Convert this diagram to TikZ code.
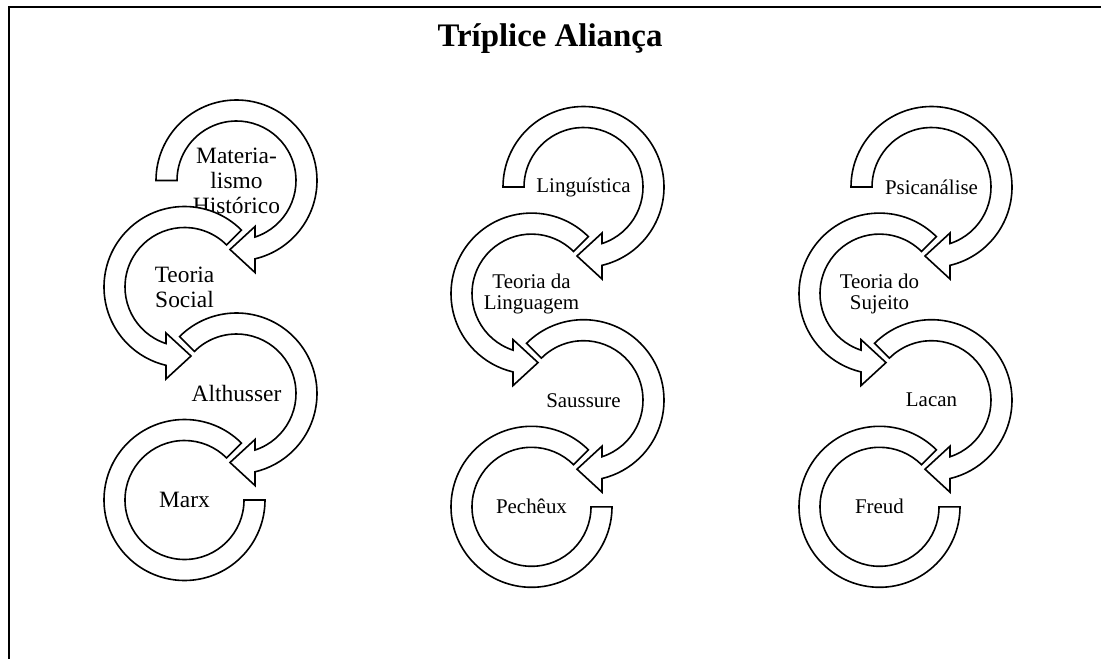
\documentclass[tikz,border=0pt]{standalone}
\usepackage{fontspec}
\setmainfont{Liberation Serif}
\begin{document}
\begin{tikzpicture}[x=1bp,y=-1bp,
  band/.style={draw=black,fill=white,line width=1.6bp,line join=miter},
  lbl/.style={align=center,font=\fontsize{21}{21}\selectfont,inner sep=0pt},
  lblbig/.style={align=center,font=\fontsize{23.5}{25}\selectfont,inner sep=0pt},
  frameline/.style={draw=black,line width=2bp}]
\useasboundingbox (0,0) rectangle (1101,659);
\newcommand{\cwarrow}[2]{%
  \begin{scope}[shift={(#1)}]
  \filldraw[band] (#2:80.5) arc[start angle=#2,end angle=76.7,radius=80.5]
    -- (18.5,92) -- (-6.5,69) -- (18.5,46) -- (71.9:59.5)
    arc[start angle=71.9,end angle=#2,radius=59.5] -- cycle;
  \end{scope}}
\newcommand{\ccwarrow}[1]{%
  \begin{scope}[shift={(#1)}]
  \filldraw[band] (-45:80.5) arc[start angle=-45,end angle=-256.7,radius=80.5]
    -- (-18.5,92) -- (6.5,69) -- (-18.5,46) -- (-251.9:59.5)
    arc[start angle=-251.9,end angle=-45,radius=59.5] -- cycle;
  \end{scope}}
\newcommand{\lastarrow}[1]{%
  \begin{scope}[shift={(#1)}]
  \filldraw[band] (-45:80.5) arc[start angle=-45,end angle=-360,radius=80.5]
    -- (0:59.5) arc[start angle=-360,end angle=-45,radius=59.5] -- cycle;
  \end{scope}}
% frame
\draw[frameline] (9,670) -- (9,7) -- (1110,7);
\node[font=\fontsize{33}{36}\selectfont\bfseries] (title) at (550,39) {Tríplice Aliança};
% column 1
\coordinate (a1) at (236.5,180.5);
\coordinate (a2) at (184.5,287);
\coordinate (a3) at (236.5,393.5);
\coordinate (a4) at (184.5,500);
\cwarrow{a1}{-180}
\node[lblbig] (ta1) at (a1) {Materia-\\lismo\\Histórico};
\ccwarrow{a2}
\node[lblbig] (ta2) at (a2) {Teoria\\Social};
\cwarrow{a3}{-135}
\node[lblbig] (ta3) at (a3) {Althusser};
\lastarrow{a4}
\node[lblbig] (ta4) at (a4) {Marx};
% column 2
\coordinate (b1) at (583.5,187);
\coordinate (b2) at (531.5,293.6);
\coordinate (b3) at (583.5,400.2);
\coordinate (b4) at (531.5,506.8);
\cwarrow{b1}{-180}
\node[lbl] (tb1) at (b1) {Linguística};
\ccwarrow{b2}
\node[lbl] (tb2) at (b2) {Teoria da\\Linguagem};
\cwarrow{b3}{-135}
\node[lbl] (tb3) at (b3) {Saussure};
\lastarrow{b4}
\node[lbl] (tb4) at (b4) {Pechêux};
% column 3
\coordinate (c1) at (931.5,187);
\coordinate (c2) at (879.5,293.6);
\coordinate (c3) at (931.5,400.2);
\coordinate (c4) at (879.5,506.8);
\cwarrow{c1}{-180}
\node[lbl] (tc1) at (c1) {Psicanálise};
\ccwarrow{c2}
\node[lbl] (tc2) at (c2) {Teoria do\\Sujeito};
\cwarrow{c3}{-135}
\node[lbl] (tc3) at (c3) {Lacan};
\lastarrow{c4}
\node[lbl] (tc4) at (c4) {Freud};
\end{tikzpicture}
\end{document}
